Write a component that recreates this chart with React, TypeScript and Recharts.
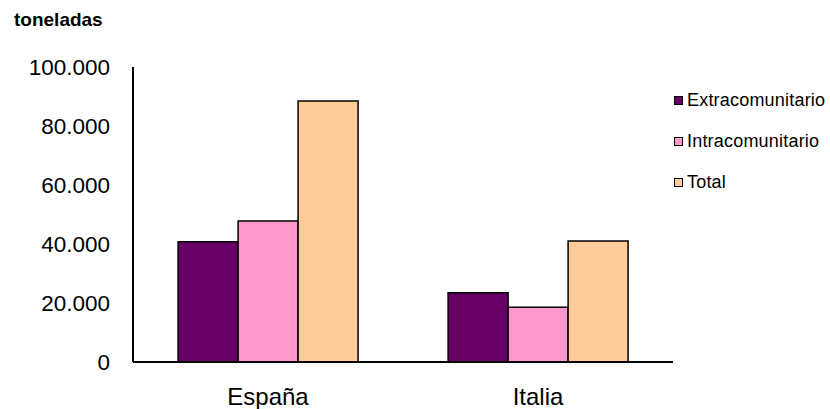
import React from 'react';
import { BarChart, Bar, XAxis, YAxis } from 'recharts';

const paises = ['España', 'Italia'];
const extracomunitario = [40800, 23500];
const intracomunitario = [47800, 18600];
const total = [88500, 41000];
const yTicks = [0, 20000, 40000, 60000, 80000, 100000];

const series = [
  { key: 'extra', name: 'Extracomunitario', color: '#660066' },
  { key: 'intra', name: 'Intracomunitario', color: '#FF99CC' },
  { key: 'total', name: 'Total', color: '#FFCC99' },
];

const data = paises.map((p, i) => ({
  name: p,
  extra: extracomunitario[i],
  intra: intracomunitario[i],
  total: total[i],
}));

const font = '"Liberation Sans", Arial, sans-serif';

const fmt = (v: number) => v.toString().replace(/\B(?=(\d{3})+(?!\d))/g, '.');

const LegendBox = () => (
  <div
    style={{
      position: 'absolute',
      left: 674,
      top: 80,
      fontFamily: font,
      fontSize: 18,
      color: '#000',
    }}
  >
    {series.map((s) => (
      <div
        key={s.key}
        style={{ display: 'flex', alignItems: 'center', height: 41 }}
      >
        <span
          style={{
            display: 'inline-block',
            width: 7,
            height: 7,
            background: s.color,
            border: '1.5px solid #000',
            marginRight: 4,
          }}
        />
        <span style={{ letterSpacing: 0.2 }}>{s.name}</span>
      </div>
    ))}
  </div>
);

const App = () => {
  return (
    <div
      style={{
        position: 'absolute',
        left: 0,
        top: 0,
        width: 830,
        height: 409,
        background: '#fff',
        fontFamily: font,
      }}
    >
      <div
        style={{
          position: 'absolute',
          left: 14,
          top: 9,
          fontSize: 19,
          fontWeight: 'bold',
          color: '#000',
        }}
      >
        toneladas
      </div>
      <BarChart
        width={830}
        height={409}
        data={data}
        barGap={0}
        barCategoryGap="16.7%"
        margin={{ top: 67, right: 157, left: 0, bottom: 0 }}
      >
        <YAxis
          width={133}
          domain={[0, 100000]}
          ticks={yTicks}
          interval={0}
          tickFormatter={fmt}
          tickLine={false}
          tickSize={6}
          tickMargin={17}
          axisLine={{ stroke: '#000', strokeWidth: 2 }}
          tick={{ fill: '#000', fontSize: 22.5, fontFamily: font }}
        />
        <XAxis
          dataKey="name"
          height={47}
          tickLine={false}
          tickSize={6}
          tickMargin={20}
          axisLine={{ stroke: '#000', strokeWidth: 2 }}
          tick={{ fill: '#000', fontSize: 24, fontFamily: font }}
        />
        {series.map((s) => (
          <Bar
            key={s.key}
            dataKey={s.key}
            name={s.name}
            fill={s.color}
            stroke="#000"
            strokeWidth={1.5}
            isAnimationActive={false}
          />
        ))}
      </BarChart>
      <LegendBox />
    </div>
  );
};

export default App;
